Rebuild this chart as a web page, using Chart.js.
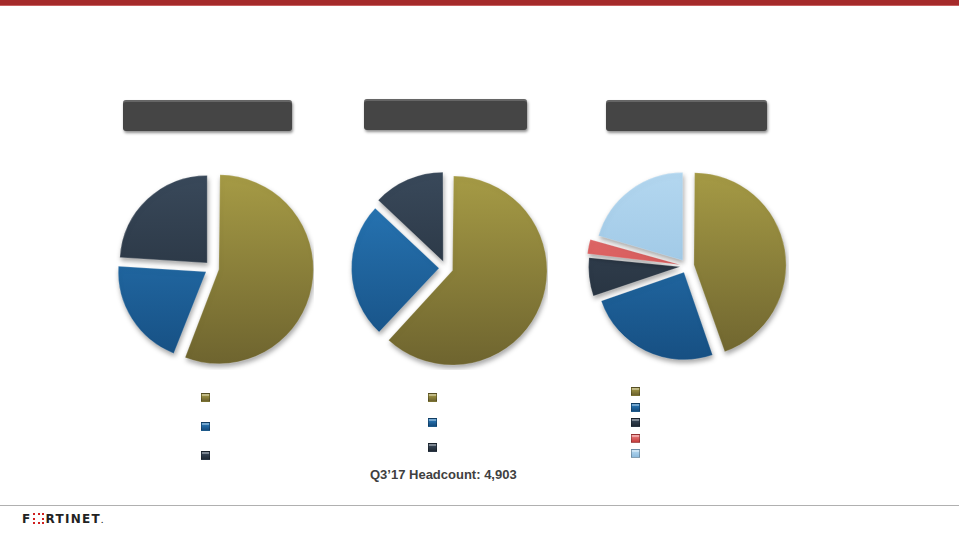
<!DOCTYPE html>
<html>
<head>
<meta charset="utf-8">
<script src="https://cdn.jsdelivr.net/npm/chart.js@4"></script>
<style>
  body { margin: 0; width: 959px; height: 540px; background: #fff; position: relative; overflow: hidden; font-family: "Liberation Sans", Arial, sans-serif; }
  .topbar { position: absolute; left: 0; top: 0; width: 959px; height: 5px; background: #a52a2a; border-bottom: 1px solid #c86060; }
  .header { position: absolute; height: 31px; background: #454545; border-radius: 3px; box-shadow: 1px 2px 3px rgba(0,0,0,0.45), inset 0 2px 0 rgba(255,255,255,0.18); }
  .pie { position: absolute; width: 204px; height: 204px; }
  .legend { position: absolute; }
  .legend span { position: absolute; left: 0; width: 7px; height: 7px; border: 1px solid rgba(0,0,0,0.25); box-shadow: inset 0 2px 0 rgba(255,255,255,0.35); }
  .note { position: absolute; left: 370px; top: 467px; font-size: 13px; font-weight: bold; color: #404040; }
  .rule { position: absolute; left: 0; top: 505px; width: 959px; height: 1px; background: #b0b0b0; }
  .logo { position: absolute; left: 22px; top: 512px; font-size: 12px; font-weight: bold; color: #222; letter-spacing: 1.3px; font-family: "DejaVu Sans", sans-serif; }
  .logo i { display: inline-block; width: 7px; height: 7px; border: 2px dotted #d02020; vertical-align: -1px; margin: 0 2px 0 1px; }
</style>
</head>
<body>
<div class="topbar"></div>
<div class="header" style="left:123px; top:100px; width:169px;"></div>
<div class="header" style="left:364px; top:99px; width:163px;"></div>
<div class="header" style="left:606px; top:100px; width:161px;"></div>

<div class="pie" style="left:110px; top:166px;"><canvas id="pie1"></canvas></div>
<div class="pie" style="left:344px; top:166px;"><canvas id="pie2"></canvas></div>
<div class="pie" style="left:585px; top:164px;"><canvas id="pie3"></canvas></div>

<div class="legend" id="leg1" style="left:201px; top:393px;"></div>
<div class="legend" id="leg2" style="left:428px; top:393px;"></div>
<div class="legend" id="leg3" style="left:631px; top:387px;"></div>

<div class="note">Q3’17 Headcount: 4,903</div>
<div class="rule"></div>
<div class="logo">F<i></i>RTINET<span style="font-size:6px;">.</span></div>

<script>
// data (percent of headcount)
var categories1 = ["Group A", "Group B", "Group C"];
var values1 = [56, 20, 24];
var categories2 = ["Group A", "Group B", "Group C"];
var values2 = [62, 25, 13];
var categories3 = ["Group A", "Group B", "Group C", "Group D", "Group E"];
var values3 = [44.7, 25, 7, 2.8, 20.5];

// colours: [top, bottom]
var shades = [
  ["#a89d46", "#6c622e"],
  ["#2a7cbd", "#154c7e"],
  ["#3b4b5d", "#1f2934"],
  ["#ee8080", "#c43c3c"],
  ["#b6d9f1", "#8dbbdd"]
];

// one scriptable fill, picks the shade by slice index
function sliceFill(ctx) {
  var i = ctx.dataIndex || 0;
  var area = ctx.chart.chartArea;
  if (!area) return shades[i][0];
  var g = ctx.chart.ctx.createLinearGradient(0, area.top, 0, area.bottom);
  g.addColorStop(0, shades[i][0]);
  g.addColorStop(1, shades[i][1]);
  return g;
}

var shadowPlugin = {
  id: "shadow",
  beforeDatasetDraw: function (chart) {
    var c = chart.ctx;
    c.save();
    c.shadowColor = "rgba(0,0,0,0.35)";
    c.shadowBlur = 5;
    c.shadowOffsetX = 1;
    c.shadowOffsetY = 3;
  },
  afterDatasetDraw: function (chart) {
    chart.ctx.restore();
  }
};

function makePie(id, labels, values) {
  new Chart(document.getElementById(id), {
    type: "pie",
    data: {
      labels: labels,
      datasets: [{
        data: values,
        backgroundColor: sliceFill,
        borderColor: "rgba(255,255,255,0.2)",
        borderWidth: 1,
        offset: 28   // chart.js draws offset/4 -> ~7px gap
      }]
    },
    options: {
      responsive: true,
      maintainAspectRatio: false,
      animation: false,
      plugins: { legend: { display: false }, tooltip: { enabled: true } }
    },
    plugins: [shadowPlugin]
  });
}

function makeLegend(id, values, gap) {
  var el = document.getElementById(id);
  for (var i = 0; i < values.length; i++) {
    var s = document.createElement("span");
    s.style.top = (i * gap) + "px";
    s.style.background = "linear-gradient(" + shades[i][0] + "," + shades[i][1] + ")";
    el.appendChild(s);
  }
}

makePie("pie1", categories1, values1);
makePie("pie2", categories2, values2);
makePie("pie3", categories3, values3);
makeLegend("leg1", values1, 29);
makeLegend("leg2", values2, 25);
makeLegend("leg3", values3, 15.5);
</script>
</body>
</html>
